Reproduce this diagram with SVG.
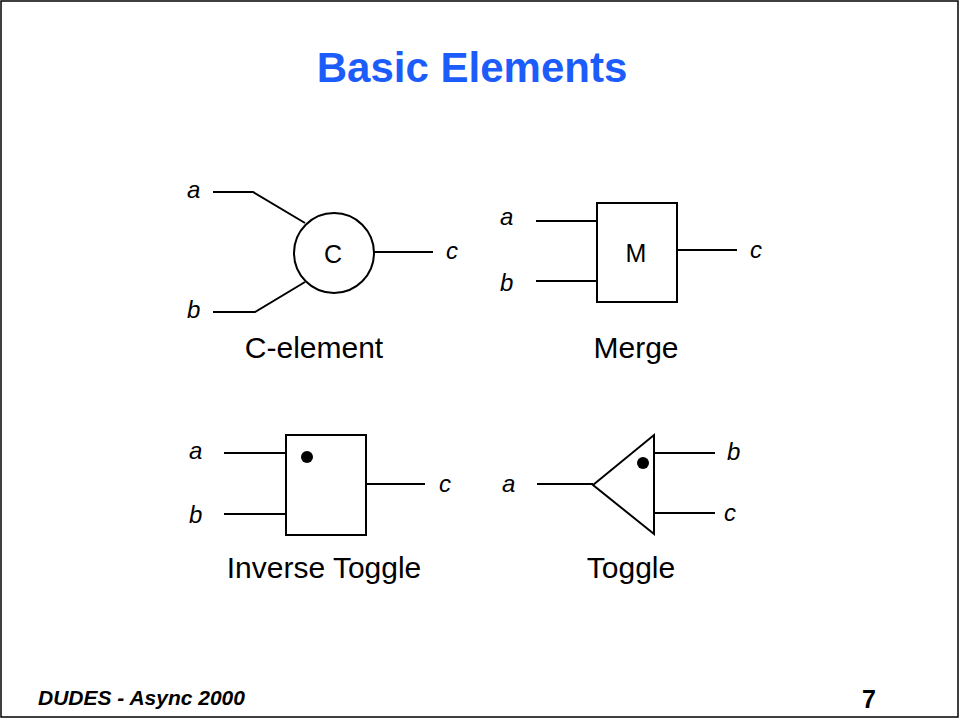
<svg xmlns="http://www.w3.org/2000/svg" width="960" height="720" viewBox="0 0 960 720">
<style>
.w{fill:none;stroke:#000;stroke-width:2}
.sym{fill:#fff;stroke:#000;stroke-width:2}
.pin{font-family:"Liberation Sans",Arial,sans-serif;font-style:italic;font-size:24px;fill:#000}
.in{font-family:"Liberation Sans",Arial,sans-serif;font-size:25px;fill:#000;text-anchor:middle}
.cap{font-family:"Liberation Sans",Arial,sans-serif;font-size:30px;fill:#000;text-anchor:middle}
</style>
<rect x="0" y="0" width="960" height="720" fill="#fff"/>
<rect x="1" y="1" width="957" height="716" fill="none" stroke="#000" stroke-width="1.5"/>
<text x="472" y="82" text-anchor="middle" font-family="Liberation Sans,Arial,sans-serif" font-weight="bold" font-size="42" fill="#1c5cfa">Basic Elements</text>
<g id="connectors">
<polyline class="w" points="213,192 253,192 305,223"/>
<polyline class="w" points="213,312 255,312 305,282"/>
<line class="w" x1="374" y1="252" x2="433" y2="252"/>
<line class="w" x1="536" y1="221" x2="597" y2="221"/>
<line class="w" x1="536" y1="281" x2="597" y2="281"/>
<line class="w" x1="677" y1="250" x2="737" y2="250"/>
<line class="w" x1="224" y1="453" x2="286" y2="453"/>
<line class="w" x1="224" y1="514" x2="286" y2="514"/>
<line class="w" x1="366" y1="484" x2="425" y2="484"/>
<line class="w" x1="537" y1="484" x2="593" y2="484"/>
<line class="w" x1="654" y1="453" x2="715" y2="453"/>
<line class="w" x1="654" y1="513" x2="715" y2="513"/>
</g>
<g id="c-element">
<circle class="sym" cx="334" cy="253" r="40"/>
<text class="in" x="333" y="263">C</text>
<text class="pin" x="187" y="198">a</text>
<text class="pin" x="187" y="318">b</text>
<text class="pin" x="446" y="259">c</text>
<text class="cap" x="314" y="358">C-element</text>
</g>
<g id="merge">
<rect class="sym" x="597" y="203" width="80" height="99"/>
<text class="in" x="636" y="262">M</text>
<text class="pin" x="500" y="225">a</text>
<text class="pin" x="500" y="291">b</text>
<text class="pin" x="750" y="258">c</text>
<text class="cap" x="636" y="358">Merge</text>
</g>
<g id="inverse-toggle">
<rect class="sym" x="286" y="435" width="80" height="100"/>
<circle cx="307" cy="457" r="6" fill="#000"/>
<text class="pin" x="189" y="459">a</text>
<text class="pin" x="189" y="523">b</text>
<text class="pin" x="439" y="492">c</text>
<text class="cap" x="324" y="578">Inverse Toggle</text>
</g>
<g id="toggle">
<polygon class="sym" points="593,485 654,435 654,534"/>
<circle cx="643" cy="463" r="6" fill="#000"/>
<text class="pin" x="502" y="492">a</text>
<text class="pin" x="727" y="460">b</text>
<text class="pin" x="724" y="521">c</text>
<text class="cap" x="631" y="578">Toggle</text>
</g>
<text x="38" y="705" font-family="Liberation Sans,Arial,sans-serif" font-weight="bold" font-style="italic" font-size="21" fill="#000">DUDES - Async 2000</text>
<text x="862" y="708" font-family="Liberation Sans,Arial,sans-serif" font-weight="bold" font-size="25" fill="#000">7</text>
</svg>
